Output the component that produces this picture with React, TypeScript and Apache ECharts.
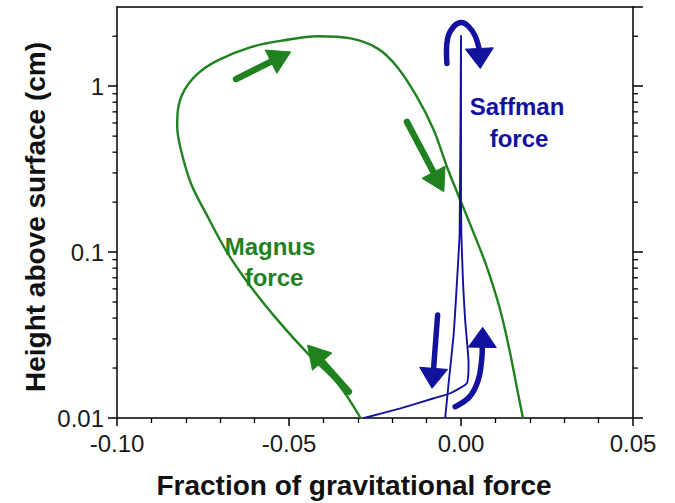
import React, { useEffect, useRef } from "react";
import * as echarts from "echarts";

// Axis ranges / tick labels
const xMin = -0.1;
const xMax = 0.05;
const yMin = 0.01;
const yMax = 3;
const xTickLabels = ["-0.10", "-0.05", "0.00", "0.05"];
const yTickLabels = ["0.01", "0.1", "1"];
const yMinorTicks = [0.02, 0.03, 0.04, 0.05, 0.06, 0.07, 0.08, 0.09, 0.2, 0.3, 0.4, 0.5, 0.6, 0.7, 0.8, 0.9, 2];

// Magnus force trajectory (fraction of gravity, height cm)
const magnusX = [-0.0292, -0.0359, -0.0446, -0.0533, -0.0611, -0.0678, -0.0736, -0.0785, -0.0814, -0.0825, -0.0823, -0.0804, -0.0765, -0.0707, -0.0611, -0.0514, -0.0417, -0.0321, -0.0243, -0.0186, -0.0128, -0.0079, -0.0041, -0.0002, 0.0037, 0.0075, 0.0114, 0.0143, 0.0162, 0.018];
const magnusY = [0.01, 0.0162, 0.0245, 0.0389, 0.0618, 0.0982, 0.163, 0.259, 0.412, 0.569, 0.717, 0.946, 1.19, 1.43, 1.72, 1.89, 2.0, 1.94, 1.69, 1.31, 0.862, 0.543, 0.327, 0.206, 0.13, 0.0815, 0.0448, 0.0245, 0.0154, 0.01];

// Saffman force trajectory
const saffmanX = [-0.0282, -0.0176, -0.0079, -0.0031, 0.0017, 0.0022, 0.0012, 0.0006, 0.0001, 0.0, 0.0, -0.0004, -0.0012, -0.0021, -0.0036, -0.0046];
const saffmanY = [0.01, 0.01144, 0.01315, 0.0141, 0.0162, 0.0214, 0.039, 0.0648, 0.13, 0.206, 2.03, 0.13, 0.0648, 0.0324, 0.0162, 0.01];

// Direction arrows, in data coordinates (last point is the tip)
const greenArrows: number[][][] = [
  [[-0.0654, 1.102], [-0.0495, 1.609]],
  [[-0.0157, 0.609], [-0.005, 0.231]],
  [[-0.0326, 0.0144], [-0.0446, 0.0275]],
];
const blueArrows: number[][][] = [
  [[-0.0068, 0.0417], [-0.0084, 0.0151]],
  [[-0.0017, 0.0117], [0.0026, 0.0135], [0.005, 0.0169], [0.006, 0.0223], [0.0062, 0.0266], [0.0063, 0.0352]],
  [[-0.0041, 1.37], [-0.0039, 1.94], [-0.002, 2.30], [0.0001, 2.42], [0.0021, 2.30], [0.0041, 2.01], [0.0053, 1.72], [0.0056, 1.278]],
];

const green = "#1f821f";
const blue = "#12129e";
const font = "'Liberation Sans', Arial, Helvetica, sans-serif";

function arrowSeries(arrows: number[][][], color: string, headLen: number, headHalf: number, width: number) {
  return {
    type: "custom",
    clip: false,
    silent: true,
    z: 5,
    data: arrows.map((a, i) => [a[0][0], a[0][1], i]),
    renderItem: (params: any, api: any) => {
      const idx = api.value(2);
      const pts = arrows[idx].map((p) => api.coord(p));
      const n = pts.length;
      const tip = pts[n - 1];
      const prev = pts[n - 2];
      let dx = tip[0] - prev[0];
      let dy = tip[1] - prev[1];
      const len = Math.sqrt(dx * dx + dy * dy) || 1;
      dx /= len;
      dy /= len;
      const base = [tip[0] - dx * headLen, tip[1] - dy * headLen];
      const px = -dy;
      const py = dx;
      const shaft = pts.slice(0, n - 1);
      if (n === 2) shaft.push(base);
      else shaft[shaft.length - 1] = [base[0] + dx * 2, base[1] + dy * 2];
      return {
        type: "group",
        children: [
          {
            type: "polyline",
            shape: { points: shaft, smooth: n > 2 ? 0.4 : 0 },
            style: { stroke: color, lineWidth: width, fill: "none", lineCap: "round", lineJoin: "round" },
          },
          {
            type: "polygon",
            shape: {
              points: [
                tip,
                [base[0] + px * headHalf, base[1] + py * headHalf],
                [base[0] - px * headHalf, base[1] - py * headHalf],
              ],
            },
            style: { fill: color, stroke: color, lineWidth: 1, lineJoin: "round" },
          },
        ],
      };
    },
  };
}

export default function App() {
  const ref = useRef<HTMLDivElement>(null);
  useEffect(() => {
    document.body.style.margin = "0";
    if (!ref.current) return;
    const chart = echarts.init(ref.current, undefined, { renderer: "svg" });
    const axisLineStyle = { color: "#000", width: 1.5 };
    const option: any = {
      animation: false,
      backgroundColor: "#fff",
      grid: { left: 117, right: 42, top: 7, bottom: 85, containLabel: false },
      xAxis: [
        {
          type: "value",
          position: "bottom",
          min: xMin,
          max: xMax,
          interval: 0.05,
          axisLine: { show: true, onZero: false, lineStyle: axisLineStyle },
          axisTick: { show: true, inside: false, length: 8, lineStyle: axisLineStyle },
          minorTick: { show: true, splitNumber: 5, length: 5, lineStyle: { color: "#000", width: 1.3 } },
          splitLine: { show: false },
          minorSplitLine: { show: false },
          axisLabel: {
            margin: 13,
            fontSize: 24,
            color: "#1a1a1a",
            fontFamily: font,
            formatter: (v: number) => {
              const i = Math.round((v - xMin) / 0.05);
              return xTickLabels[i] ?? v.toFixed(2);
            },
          },
        },
        {
          type: "value",
          position: "top",
          min: xMin,
          max: xMax,
          interval: 0.05,
          axisLine: { show: true, onZero: false, lineStyle: axisLineStyle },
          axisTick: { show: false },
          axisLabel: { show: false },
          splitLine: { show: false },
        },
      ],
      yAxis: [
        {
          type: "log",
          logBase: 10,
          position: "left",
          min: yMin,
          max: yMax,
          axisLine: { show: true, onZero: false, lineStyle: axisLineStyle },
          axisTick: { show: true, inside: false, length: 9, lineStyle: axisLineStyle },
          splitLine: { show: false },
          axisLabel: {
            margin: 13,
            fontSize: 24,
            color: "#1a1a1a",
            fontFamily: font,
            showMaxLabel: false,
            formatter: (v: number) => {
              const i = Math.round(Math.log10(v) + 2);
              return yTickLabels[i] ?? "";
            },
          },
        },
        {
          type: "log",
          logBase: 10,
          position: "right",
          min: yMin,
          max: yMax,
          axisLine: { show: true, onZero: false, lineStyle: axisLineStyle },
          axisTick: { show: true, inside: false, length: 10, lineStyle: axisLineStyle },
          splitLine: { show: false },
          axisLabel: { show: false },
        },
      ],
      series: [
        {
          name: "Magnus force",
          type: "line",
          xAxisIndex: 0,
          yAxisIndex: 0,
          data: magnusX.map((x, i) => [x, magnusY[i]]),
          smooth: 0.35,
          symbol: "none",
          lineStyle: { color: green, width: 2.4 },
          z: 3,
        },
        {
          name: "Saffman force",
          type: "line",
          xAxisIndex: 0,
          yAxisIndex: 0,
          data: saffmanX.map((x, i) => [x, saffmanY[i]]),
          smooth: 0.15,
          symbol: "none",
          lineStyle: { color: blue, width: 1.9 },
          z: 4,
        },
        {
          type: "custom",
          clip: false,
          silent: true,
          data: yMinorTicks.map((v) => [xMin, v]),
          renderItem: (params: any, api: any) => {
            const v = api.value(1);
            const l = api.coord([xMin, v]);
            const r = api.coord([xMax, v]);
            const st = { stroke: "#000", lineWidth: 1.3 };
            return {
              type: "group",
              children: [
                { type: "line", shape: { x1: l[0] - 4.5, y1: l[1], x2: l[0], y2: l[1] }, style: st },
                { type: "line", shape: { x1: r[0], y1: r[1], x2: r[0] + 5, y2: r[1] }, style: st },
              ],
            };
          },
        },
        arrowSeries(greenArrows, green, 22, 13, 6.5),
        arrowSeries(blueArrows, blue, 20, 14, 5.5),
      ],
      graphic: [
        {
          type: "text",
          x: 354,
          y: 485,
          style: {
            text: "Fraction of gravitational force",
            font: `bold 28px ${font}`,
            fill: "#111",
            textAlign: "center",
            textVerticalAlign: "middle",
          },
        },
        {
          type: "text",
          x: 35,
          y: 217,
          rotation: Math.PI / 2,
          style: {
            text: "Height above surface (cm)",
            font: `bold 28px ${font}`,
            fill: "#111",
            textAlign: "center",
            textVerticalAlign: "middle",
          },
        },
        {
          type: "text",
          x: 270,
          y: 246.5,
          style: { text: "Magnus", font: `bold 24px ${font}`, fill: green, textAlign: "center", textVerticalAlign: "middle" },
        },
        {
          type: "text",
          x: 274,
          y: 277.5,
          style: { text: "force", font: `bold 24px ${font}`, fill: green, textAlign: "center", textVerticalAlign: "middle" },
        },
        {
          type: "text",
          x: 517,
          y: 106.5,
          style: { text: "Saffman", font: `bold 24px ${font}`, fill: blue, textAlign: "center", textVerticalAlign: "middle" },
        },
        {
          type: "text",
          x: 519,
          y: 138.5,
          style: { text: "force", font: `bold 24px ${font}`, fill: blue, textAlign: "center", textVerticalAlign: "middle" },
        },
      ],
    };
    chart.setOption(option);
    return () => chart.dispose();
  }, []);
  return <div ref={ref} style={{ width: 675, height: 503 }} />;
}
